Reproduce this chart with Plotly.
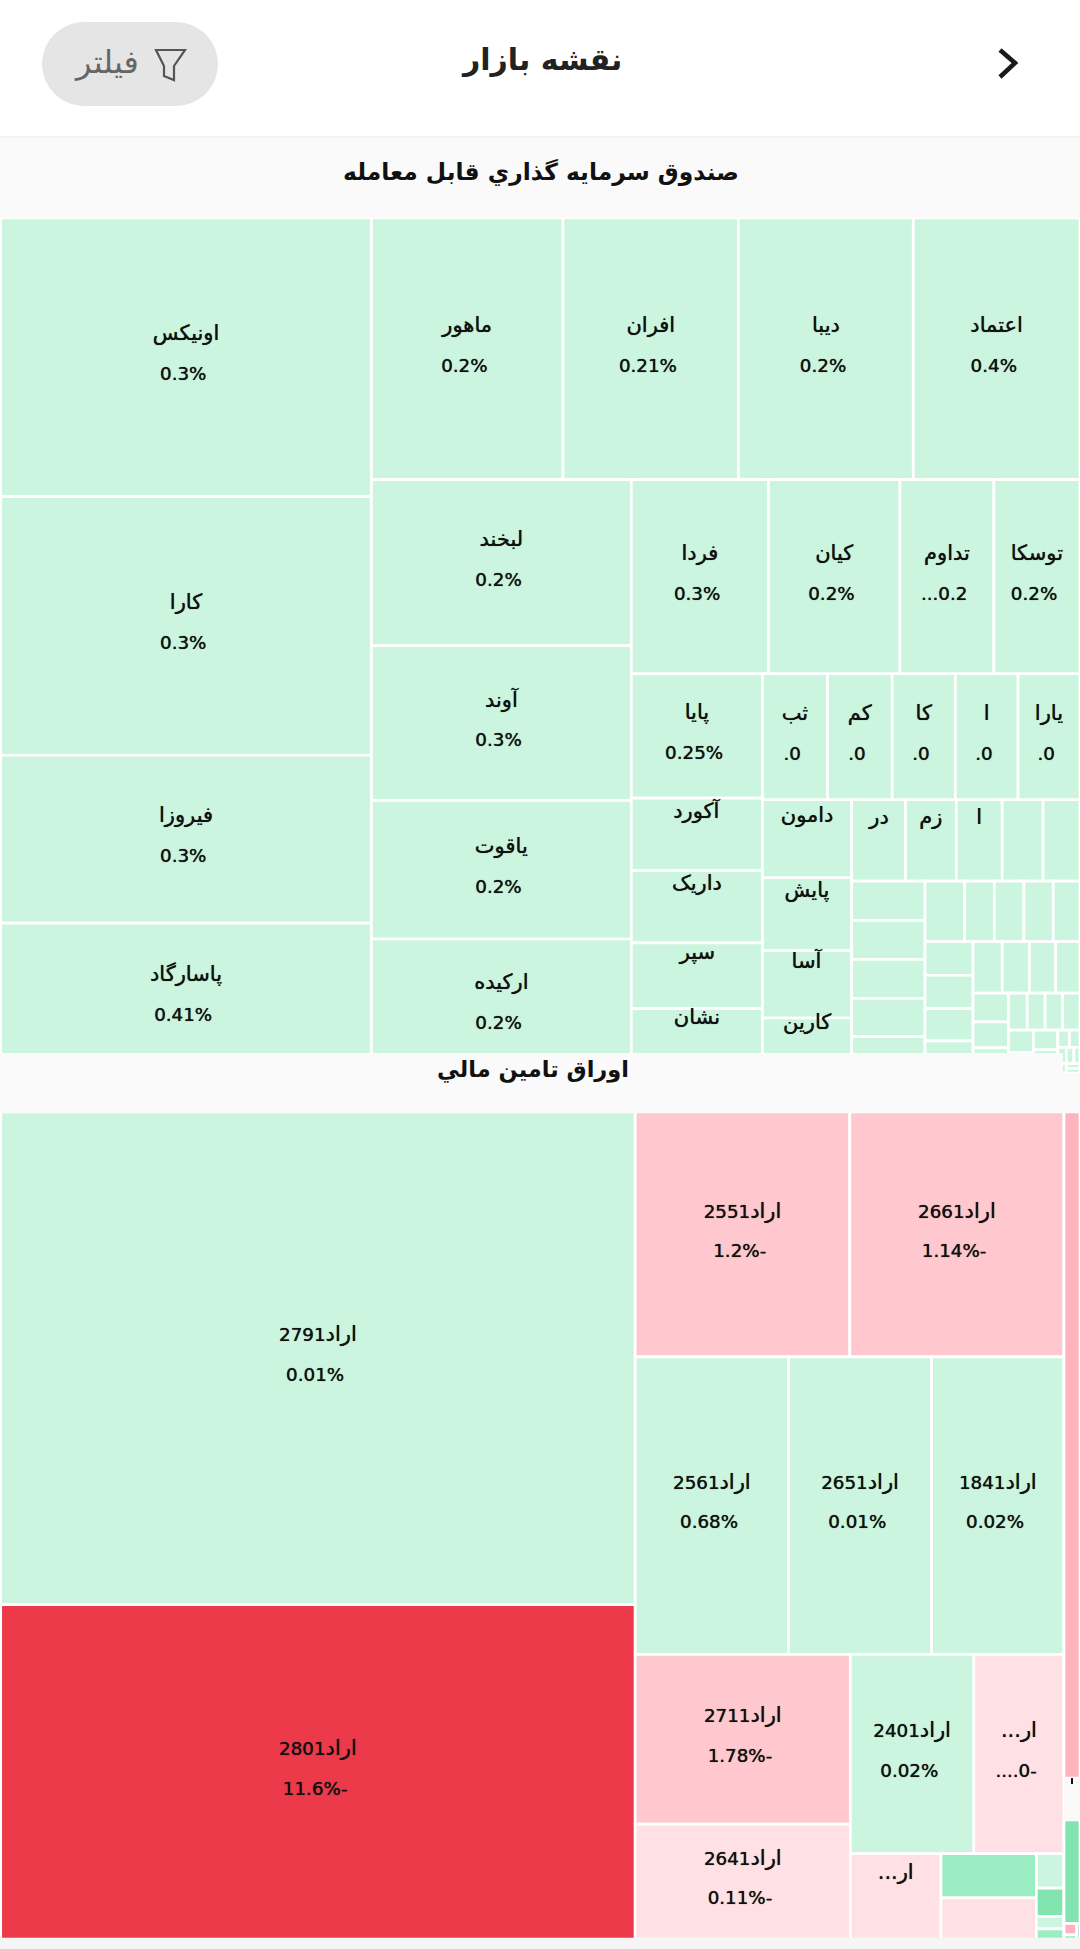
import re
import plotly.graph_objects as go

W, H = 1080, 1949

# ---- data: first group ----
etf_names = ["اونیکس","کارا","فیروزا","پاسارگاد",
             "ماهور","افران","دیبا","اعتماد",
             "لبخند","آوند","یاقوت","ارکیده",
             "فردا","کیان","تداوم","توسکا",
             "پایا","آکورد","داریک","سپر","نشان",
             "ثب","کم","کا","ا","یارا",
             "دامون","پایش","آسا","کارین",
             "در","زم","ا","",""]
etf_pcts = ["0.3%","0.3%","0.3%","0.41%",
            "0.2%","0.21%","0.2%","0.4%",
            "0.2%","0.3%","0.2%","0.2%",
            "0.3%","0.2%","...0.2","0.2%",
            "0.25%","","","","",
            ".0",".0",".0",".0",".0",
            "","","","",
            "","","","",""]
etf_values = [103.2,95.8,62.2,55.5,
              50.1,45.9,45.7,43.6,
              43.1,40.2,36.0,34.8,
              26.6,25.5,18.2,16.7,
              16.3,9.5,9.49,8.6,8.45,
              8.18,8.15,7.95,7.9,7.8,
              6.95,6.5,6.0,4.9,
              4.37,4.13,3.73,3.32,3.0]
etf_small_values = [2.88,2.87,2.86,2.8,2.66,
                    2.4,1.8,1.79,1.78,1.62,
                    1.61,1.6,1.55,1.54,
                    1.5,1.4,1.35,1.25,
                    1.02,0.92,0.89,
                    0.69,0.66,0.65,0.56,
                    0.64,0.5,0.48,
                    0.29,0.28,0.2,0.18,
                    0.14,0.12,0.1,0.08,0.07,0.06]

# ---- data: second group ----
bond_names = ["اراد2791","اراد2801","اراد2551","اراد2661","اراد2561","اراد2651","اراد1841",
              "اراد2711","اراد2641","اراد2401","...ار","...ار","","","","",""]
bond_pcts = ["0.01%","11.6%-","1.2%-","1.14%-","0.68%","0.01%","0.02%",
             "1.78%-","0.11%-","0.02%","....0-","","","","","",""]
bond_values = [311.2,211.2,52.3,52.2,45.4,42.4,39.2,36.4,24.6,24.5,17.9,7.7,4.2,3.9,0.95,0.78,0.34]
bond_colors = ["#ccf5e0","#ec3a4b","#fec8ce","#fec8ce","#ccf5e0","#ccf5e0","#ccf5e0",
               "#fec8ce","#ffe0e4","#ccf5e0","#ffe0e4","#ffe0e4","#9aedc3","#ffe0e4",
               "#ccf5e0","#82e5b0","#ccf5e0"]
bond_tail_value = 0.28
bond_tail_color = "#9aedc3"

# ---- data: third group slivers ----
strip_values = [10.6]
tail_values = [1.6,0.143,0.052,0.048]
tail_colors = ["#82e5b0","#ffb3bd","#9aedc3","#7ab8d8"]

group1_title = "صندوق سرمايه گذاري قابل معامله"
group2_title = "اوراق تامين مالي"
page_title = "نقشه بازار"
filter_label = "فیلتر"

GREEN = "#ccf5e0"
FONT = "DejaVu Sans"
INK = "#111111"


def X(px):
    return px / W


def Y(py):
    return 1 - py / H


def name_markup(name):
    parts = re.findall(r"\d+|\D+", name)
    out = ""
    for part in parts:
        size = 18.3 if part.isdigit() else 21
        out += f'<span style="font-size:{size}px">{part}</span>'
    return out


def label(name, pct):
    if not name and not pct:
        return ""
    second = pct if pct else "\u00a0"
    # a tall hair space extends the text box downward, lifting the block a little
    lift = '<span style="font-size:56px">\u200a</span>'
    return f'{name_markup(name)}<br><br><span style="font-size:18.3px">{second}</span>{lift}'


def treemap(prefix, values, colors, texts, x0, x1, y0, y1):
    ids = [f"{prefix}{i}" for i in range(len(values))]
    return go.Treemap(
        ids=[prefix] + ids,
        labels=[prefix] + ids,
        parents=[""] + [prefix] * len(values),
        values=[0] + list(values),
        branchvalues="remainder",
        text=[""] + list(texts),
        textinfo="text",
        textposition="middle center",
        insidetextfont=dict(family=FONT, size=15.3, color=INK, shadow="0 0 0.7px #111111"),
        marker=dict(colors=["#ffffff"] + list(colors), line=dict(color="#ffffff", width=2.7),
                    pad=dict(t=0, l=0, r=0, b=0), depthfade=False),
        tiling=dict(packing="squarify", squarifyratio=1.618, pad=0),
        pathbar=dict(visible=False),
        sort=True,
        hoverinfo="skip",
        domain=dict(x=[X(x0), X(x1)], y=[Y(y1), Y(y0)]),
    )


etf_all = etf_values + etf_small_values
etf_texts = [label(n, p) for n, p in zip(etf_names, etf_pcts)] + [""] * len(etf_small_values)
bond_all = bond_values + [bond_tail_value]
bond_texts = [label(n, p) for n, p in zip(bond_names, bond_pcts)] + [""]

fig = go.Figure()
fig.add_trace(treemap("a", etf_all, [GREEN] * len(etf_all), etf_texts, 0.7, 1080, 218, 1073))
fig.add_trace(treemap("b", bond_all, bond_colors + [bond_tail_color], bond_texts, 0.7, 1064, 1112, 1939))
fig.add_trace(treemap("c", strip_values, ["#ffb3bd"], [""], 1064, 1080, 1112, 1778))
fig.add_trace(treemap("d", tail_values, tail_colors, [""] * 4, 1064, 1080, 1820, 1939))


def rect(x0, y0, x1, y1, color):
    return dict(type="rect", xref="paper", yref="paper", x0=X(x0), x1=X(x1), y0=Y(y1), y1=Y(y0),
                fillcolor=color, line=dict(width=0), layer="above")


def path(points, close=False):
    d = "M " + " L ".join(f"{X(a):.5f},{Y(b):.5f}" for a, b in points)
    return d + (" Z" if close else "")


shapes = [
    rect(0, 136, 1080, 218, "#fafafa"),
    rect(0, 136, 1080, 138, "#f2f2f2"),
    rect(0, 1053, 1063, 1113, "#fafafa"),
    rect(1063, 1073, 1080, 1113, "#fafafa"),
    rect(1064, 1778, 1080, 1820, "#fafafa"),
    rect(0, 1938, 1080, 1949, "#f5f5f5"),
    dict(type="rect", xref="paper", yref="paper", x0=X(1071), x1=X(1073), y0=Y(1784), y1=Y(1778),
         fillcolor="#111111", line=dict(width=0), layer="above"),
]
# filter pill: two round ends and a body
shapes += [
    rect(84, 22, 176, 106, "#e5e5e5"),
    dict(type="circle", xref="paper", yref="paper", x0=X(42), x1=X(126), y0=Y(106), y1=Y(22),
         fillcolor="#e5e5e5", line=dict(width=0), layer="above"),
    dict(type="circle", xref="paper", yref="paper", x0=X(134), x1=X(218), y0=Y(106), y1=Y(22),
         fillcolor="#e5e5e5", line=dict(width=0), layer="above"),
    dict(type="path", xref="paper", yref="paper", layer="above",
         path=path([(156, 50), (185, 50), (174, 66), (174, 80), (164, 76), (164, 66)], True),
         line=dict(color="#555555", width=2.2), fillcolor="rgba(0,0,0,0)"),
    dict(type="path", xref="paper", yref="paper", layer="above",
         path=path([(1000, 50), (1015, 63), (1000, 77)]),
         line=dict(color="#1a1a1a", width=4.5)),
]


def text_note(text, cx, cy, size, color):
    return dict(text=text, x=X(cx), y=Y(cy), xref="paper", yref="paper", showarrow=False,
                xanchor="center", yanchor="middle", font=dict(family=FONT, size=size, color=color))


annotations = [
    text_note(f"<b>{page_title}</b>", 541, 60, 30, "#222222"),
    text_note(filter_label, 106, 62, 32, "#666666"),
    text_note(f"<b>{group1_title}</b>", 541, 172, 23.4, "#111111"),
    text_note(f"<b>{group2_title}</b>", 532.5, 1069, 22.5, "#111111"),
]

fig.update_layout(
    width=W, height=H, margin=dict(l=0, r=0, t=0, b=0),
    paper_bgcolor="#ffffff", showlegend=False,
    uniformtext=dict(minsize=15.3, mode="show"),
    shapes=shapes, annotations=annotations,
)

fig.write_html("out.html", config=dict(displayModeBar=False),
               post_script="document.body.style.margin='0';document.body.style.overflow='hidden';")
